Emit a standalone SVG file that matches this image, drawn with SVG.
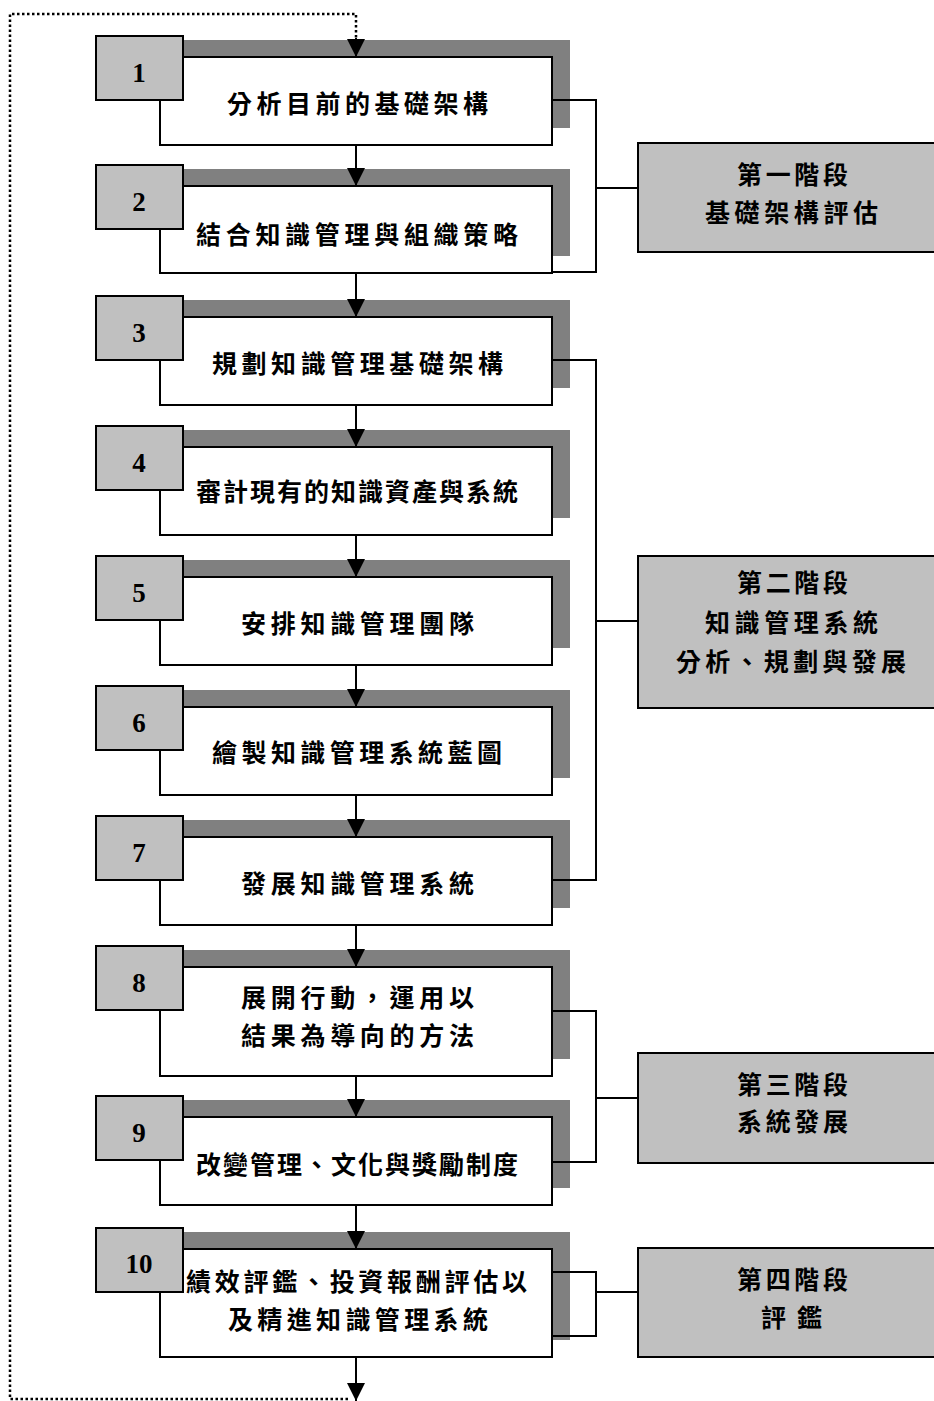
<svg xmlns="http://www.w3.org/2000/svg" width="934" height="1401" viewBox="0 0 934 1401">
<style>
.sh{fill:#808080;stroke:none}
.wb{fill:#fff;stroke:#000;stroke-width:2}
.nb{fill:#c0c0c0;stroke:#000;stroke-width:2}
.sb{fill:#c0c0c0;stroke:#000;stroke-width:2}
.num{font-family:"Liberation Serif",serif;font-weight:bold;font-size:27px;text-anchor:middle;fill:#000}
.t{font-family:"Liberation Serif","Noto Sans CJK TC",serif;font-weight:bold;font-size:25px;fill:#000}
.ln{fill:none;stroke:#000;stroke-width:2}
.dot{fill:none;stroke:#000;stroke-width:2.5;stroke-dasharray:2.5 2.5}
</style>
<defs>
<marker id="ah" markerWidth="18" markerHeight="18" refX="18" refY="9" orient="auto" markerUnits="userSpaceOnUse">
<path d="M0,0 L18,9 L0,18 Z" fill="#000"/>
</marker>
</defs>
<g id="node1">
<rect class="sh" x="178" y="40" width="392" height="88"/>
<rect class="wb" x="160" y="57" width="392" height="88"/>
<rect class="nb" x="96" y="36" width="87" height="64"/>
<text class="num" x="139" y="82">1</text>
<text class="t" x="227" y="113" textLength="261" lengthAdjust="spacing">分析目前的基礎架構</text>
</g>
<g id="node2">
<rect class="sh" x="178" y="169" width="392" height="87"/>
<rect class="wb" x="160" y="186" width="392" height="87"/>
<rect class="nb" x="96" y="165" width="87" height="64"/>
<text class="num" x="139" y="211">2</text>
<text class="t" x="196" y="244" textLength="322" lengthAdjust="spacing">結合知識管理與組織策略</text>
</g>
<g id="node3">
<rect class="sh" x="178" y="300" width="392" height="88"/>
<rect class="wb" x="160" y="317" width="392" height="88"/>
<rect class="nb" x="96" y="296" width="87" height="64"/>
<text class="num" x="139" y="342">3</text>
<text class="t" x="212" y="373" textLength="291" lengthAdjust="spacing">規劃知識管理基礎架構</text>
</g>
<g id="node4">
<rect class="sh" x="178" y="430" width="392" height="88"/>
<rect class="wb" x="160" y="447" width="392" height="88"/>
<rect class="nb" x="96" y="426" width="87" height="64"/>
<text class="num" x="139" y="472">4</text>
<text class="t" x="196" y="501" textLength="322" lengthAdjust="spacing">審計現有的知識資產與系統</text>
</g>
<g id="node5">
<rect class="sh" x="178" y="560" width="392" height="88"/>
<rect class="wb" x="160" y="577" width="392" height="88"/>
<rect class="nb" x="96" y="556" width="87" height="64"/>
<text class="num" x="139" y="602">5</text>
<text class="t" x="241" y="633" textLength="233" lengthAdjust="spacing">安排知識管理團隊</text>
</g>
<g id="node6">
<rect class="sh" x="178" y="690" width="392" height="88"/>
<rect class="wb" x="160" y="707" width="392" height="88"/>
<rect class="nb" x="96" y="686" width="87" height="64"/>
<text class="num" x="139" y="732">6</text>
<text class="t" x="212" y="762" textLength="290" lengthAdjust="spacing">繪製知識管理系統藍圖</text>
</g>
<g id="node7">
<rect class="sh" x="178" y="820" width="392" height="88"/>
<rect class="wb" x="160" y="837" width="392" height="88"/>
<rect class="nb" x="96" y="816" width="87" height="64"/>
<text class="num" x="139" y="862">7</text>
<text class="t" x="241" y="893" textLength="233" lengthAdjust="spacing">發展知識管理系統</text>
</g>
<g id="node8">
<rect class="sh" x="178" y="950" width="392" height="109"/>
<rect class="wb" x="160" y="967" width="392" height="109"/>
<rect class="nb" x="96" y="946" width="87" height="64"/>
<text class="num" x="139" y="992">8</text>
<text class="t" x="241" y="1007" textLength="233" lengthAdjust="spacing">展開行動，運用以</text>
<text class="t" x="241" y="1045" textLength="233" lengthAdjust="spacing">結果為導向的方法</text>
</g>
<g id="node9">
<rect class="sh" x="178" y="1100" width="392" height="88"/>
<rect class="wb" x="160" y="1117" width="392" height="88"/>
<rect class="nb" x="96" y="1096" width="87" height="64"/>
<text class="num" x="139" y="1142">9</text>
<text class="t" x="196" y="1174" textLength="322" lengthAdjust="spacing">改變管理、文化與獎勵制度</text>
</g>
<g id="node10">
<rect class="sh" x="178" y="1232" width="392" height="108"/>
<rect class="wb" x="160" y="1249" width="392" height="108"/>
<rect class="nb" x="96" y="1228" width="87" height="64"/>
<text class="num" x="139" y="1273">10</text>
<text class="t" x="186" y="1291" textLength="341" lengthAdjust="spacing">績效評鑑、投資報酬評估以</text>
<text class="t" x="228" y="1329" textLength="260" lengthAdjust="spacing">及精進知識管理系統</text>
</g>
<g id="stage1">
<rect class="sb" x="638" y="143" width="310" height="109"/>
<text class="t" x="737" y="184" textLength="111" lengthAdjust="spacing">第一階段</text>
<text class="t" x="705" y="222" textLength="173" lengthAdjust="spacing">基礎架構評估</text>
</g>
<g id="stage2">
<rect class="sb" x="638" y="556" width="310" height="152"/>
<text class="t" x="737" y="592" textLength="111" lengthAdjust="spacing">第二階段</text>
<text class="t" x="705" y="632" textLength="173" lengthAdjust="spacing">知識管理系統</text>
<text class="t" x="676" y="671" textLength="230" lengthAdjust="spacing">分析、規劃與發展</text>
</g>
<g id="stage3">
<rect class="sb" x="638" y="1053" width="310" height="110"/>
<text class="t" x="737" y="1094" textLength="111" lengthAdjust="spacing">第三階段</text>
<text class="t" x="737" y="1131" textLength="111" lengthAdjust="spacing">系統發展</text>
</g>
<g id="stage4">
<rect class="sb" x="638" y="1248" width="310" height="109"/>
<text class="t" x="737" y="1289" textLength="111" lengthAdjust="spacing">第四階段</text>
<text class="t" x="761" y="1327" textLength="61" lengthAdjust="spacing">評鑑</text>
</g>
<g id="connectors">
<line class="ln" x1="356" y1="145" x2="356" y2="186" marker-end="url(#ah)"/>
<line class="ln" x1="356" y1="273" x2="356" y2="317" marker-end="url(#ah)"/>
<line class="ln" x1="356" y1="405" x2="356" y2="447" marker-end="url(#ah)"/>
<line class="ln" x1="356" y1="535" x2="356" y2="577" marker-end="url(#ah)"/>
<line class="ln" x1="356" y1="665" x2="356" y2="707" marker-end="url(#ah)"/>
<line class="ln" x1="356" y1="795" x2="356" y2="837" marker-end="url(#ah)"/>
<line class="ln" x1="356" y1="925" x2="356" y2="967" marker-end="url(#ah)"/>
<line class="ln" x1="356" y1="1076" x2="356" y2="1117" marker-end="url(#ah)"/>
<line class="ln" x1="356" y1="1205" x2="356" y2="1249" marker-end="url(#ah)"/>
<line class="ln" x1="356" y1="1357" x2="356" y2="1401" marker-end="url(#ah)"/>
<polyline class="dot" points="348,1399 10,1399 10,14 356,14 356,40"/>
<line class="ln" x1="356" y1="38" x2="356" y2="57" marker-end="url(#ah)"/>
<polyline class="ln" points="552,100 596,100 596,272 552,272"/>
<line class="ln" x1="596" y1="188" x2="638" y2="188"/>
<polyline class="ln" points="552,360 596,360 596,880 552,880"/>
<line class="ln" x1="596" y1="621" x2="638" y2="621"/>
<polyline class="ln" points="552,1011 596,1011 596,1162 552,1162"/>
<line class="ln" x1="596" y1="1098" x2="638" y2="1098"/>
<polyline class="ln" points="552,1272 596,1272 596,1336 552,1336"/>
<line class="ln" x1="596" y1="1292" x2="638" y2="1292"/>
</g>
</svg>
